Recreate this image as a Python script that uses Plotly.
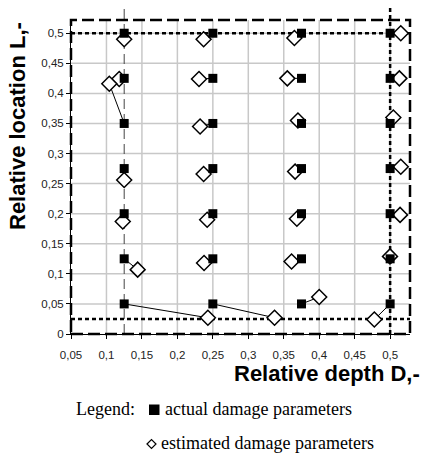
import plotly.graph_objects as go

# ---- data ----
actual_D = [0.125, 0.125, 0.125, 0.125, 0.125, 0.125, 0.125,
            0.25, 0.25, 0.25, 0.25, 0.25, 0.25, 0.25,
            0.375, 0.375, 0.375, 0.375, 0.375, 0.375, 0.375,
            0.5, 0.5, 0.5, 0.5, 0.5, 0.5, 0.5]
actual_L = [0.5, 0.425, 0.35, 0.275, 0.2, 0.125, 0.05,
            0.5, 0.425, 0.35, 0.275, 0.2, 0.125, 0.05,
            0.5, 0.425, 0.35, 0.275, 0.2, 0.125, 0.05,
            0.5, 0.425, 0.35, 0.275, 0.2, 0.125, 0.05]
est_D = [0.125, 0.118, 0.104, 0.125, 0.123, 0.144, 0.243,
         0.237, 0.2305, 0.232, 0.237, 0.242, 0.2376, 0.337,
         0.365, 0.355, 0.370, 0.366, 0.3685, 0.361, 0.400,
         0.515, 0.513, 0.5045, 0.515, 0.514, 0.4998, 0.4777]
est_L = [0.490, 0.424, 0.416, 0.256, 0.187, 0.107, 0.027,
         0.490, 0.424, 0.345, 0.266, 0.190, 0.118, 0.027,
         0.492, 0.425, 0.355, 0.270, 0.1915, 0.1206, 0.0615,
         0.500, 0.425, 0.360, 0.278, 0.198, 0.129, 0.024]

x_ticks = [0.05, 0.1, 0.15, 0.2, 0.25, 0.3, 0.35, 0.4, 0.45, 0.5]
x_tick_labels = ["0,05", "0,1", "0,15", "0,2", "0,25", "0,3", "0,35", "0,4", "0,45", "0,5"]
y_ticks = [0, 0.05, 0.1, 0.15, 0.2, 0.25, 0.3, 0.35, 0.4, 0.45, 0.5]
y_tick_labels = ["0", "0,05", "0,1", "0,15", "0,2", "0,25", "0,3", "0,35", "0,4", "0,45", "0,5"]

ref_D = [0.125, 0.5]     # vertical reference lines
ref_L = [0.5, 0.025]     # horizontal reference lines

# ---- figure ----
W, H = 423, 455
ml, mr, mt, mb = 71, 13, 20, 121
pw, ph = W - ml - mr, H - mt - mb


def px(xp):
    return (xp - ml) / pw


def py(yp):
    return (H - mb - yp) / ph


seg_x, seg_y = [], []
for ax_, ay_, ex_, ey_ in zip(actual_D, actual_L, est_D, est_L):
    seg_x += [ax_, ex_, None]
    seg_y += [ay_, ey_, None]

fig = go.Figure()
fig.add_trace(go.Scatter(x=seg_x, y=seg_y, mode="lines",
                         line=dict(color="black", width=1), hoverinfo="skip",
                         showlegend=False))
fig.add_trace(go.Scatter(x=est_D, y=est_L, mode="markers", name="estimated",
                         marker=dict(symbol="diamond", size=11.5, color="white",
                                     line=dict(color="black", width=1.5)),
                         showlegend=False, cliponaxis=False))
fig.add_trace(go.Scatter(x=actual_D, y=actual_L, mode="markers", name="actual",
                         marker=dict(symbol="square", size=9, color="black",
                                     line=dict(width=0)),
                         showlegend=False, cliponaxis=False))

shapes = []
grid = dict(color="#c8c8c8", width=1.5)
for xv in x_ticks[1:]:
    shapes.append(dict(type="line", xref="x", yref="paper", x0=xv, x1=xv, y0=0, y1=1,
                       line=grid, layer="below"))
for yv in y_ticks[1:]:
    shapes.append(dict(type="line", xref="paper", yref="y", x0=0, x1=1, y0=yv, y1=yv,
                       line=grid, layer="below"))
# reference lines
shapes.append(dict(type="line", xref="x", yref="paper", x0=ref_D[0], x1=ref_D[0],
                   y0=0, y1=1 + 12 / ph, line=dict(color="#444444", width=1, dash="10px,5px"),
                   layer="below"))
shapes.append(dict(type="line", xref="x", yref="paper", x0=ref_D[1], x1=ref_D[1],
                   y0=0, y1=1 + 12 / ph, line=dict(color="black", width=2.5, dash="4px,3px"),
                   layer="below"))
for lv in ref_L:
    shapes.append(dict(type="line", xref="paper", yref="y", x0=0, x1=1, y0=lv, y1=lv,
                       line=dict(color="black", width=2.5, dash="4px,3px"), layer="below"))
# dashed frame
shapes.append(dict(type="rect", xref="paper", yref="paper", x0=0, x1=1, y0=0, y1=1,
                   line=dict(color="black", width=2.5, dash="12px,5px"), layer="above"))
# legend glyphs
shapes.append(dict(type="rect", xref="paper", yref="paper",
                   x0=px(149), x1=px(159.5), y0=py(415), y1=py(404.5),
                   fillcolor="black", line=dict(width=0)))
cx, cy, hw, hh = px(151.5), py(444), 4.5 / pw, 4.5 / ph
shapes.append(dict(type="path", xref="paper", yref="paper",
                   path=f"M {cx-hw},{cy} L {cx},{cy+hh} L {cx+hw},{cy} L {cx},{cy-hh} Z",
                   fillcolor="white", line=dict(color="black", width=1.2)))

serif = "Liberation Serif, Times New Roman, serif"
sans = "Liberation Sans, Arial, sans-serif"
annotations = [
    dict(text="<b>Relative depth D,-</b>", xref="paper", yref="paper",
         x=px(326.5), y=py(373.5), xanchor="center", yanchor="middle", showarrow=False,
         font=dict(family=sans, size=22, color="black")),
    dict(text="<b>Relative location L,-</b>", xref="paper", yref="paper", textangle=-90,
         x=px(17), y=py(126), xanchor="center", yanchor="middle", showarrow=False,
         font=dict(family=sans, size=22, color="black")),
    dict(text="Legend:", xref="paper", yref="paper", x=px(74), y=py(409),
         xanchor="left", yanchor="middle", showarrow=False,
         font=dict(family=serif, size=18, color="black")),
    dict(text="actual damage parameters", xref="paper", yref="paper", x=px(163), y=py(409),
         xanchor="left", yanchor="middle", showarrow=False,
         font=dict(family=serif, size=18, color="black")),
    dict(text="estimated damage parameters", xref="paper", yref="paper", x=px(159), y=py(443),
         xanchor="left", yanchor="middle", showarrow=False,
         font=dict(family=serif, size=18, color="black")),
]

fig.update_layout(
    width=W, height=H, margin=dict(l=ml, r=mr, t=mt, b=mb),
    paper_bgcolor="white", plot_bgcolor="white",
    shapes=shapes, annotations=annotations, showlegend=False,
    font=dict(family=sans, size=11, color="#222222"),
)
fig.update_xaxes(range=[0.05, 0.528], tickvals=x_ticks, ticktext=x_tick_labels,
                 showgrid=False, zeroline=False,
                 showline=True, linecolor="black", linewidth=1,
                 ticks="outside", ticklen=4, tickcolor="black", ticklabelstandoff=6,
                 tickfont=dict(family=sans, size=11.5, color="#222222"))
fig.update_yaxes(range=[0, 0.522], tickvals=y_ticks, ticktext=y_tick_labels,
                 showgrid=False, zeroline=False,
                 showline=True, linecolor="black", linewidth=1,
                 ticks="outside", ticklen=4, tickcolor="black",
                 tickfont=dict(family=sans, size=11.5, color="#222222"))

fig.write_html("out.html")
